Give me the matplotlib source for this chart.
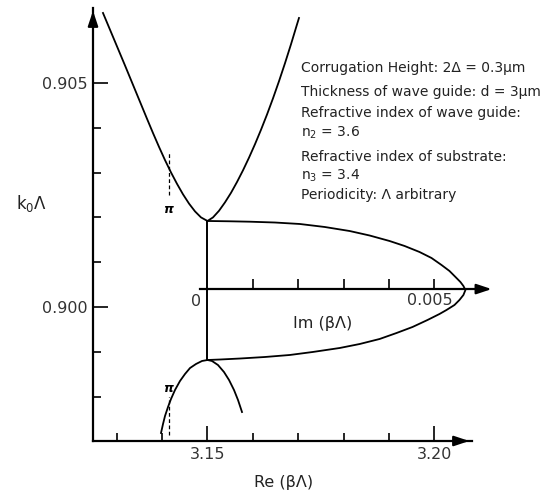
import matplotlib
matplotlib.use("Agg")
import matplotlib.pyplot as plt

plt.rcParams['font.family'] = ['DejaVu Sans']
plt.rcParams['mathtext.fontset'] = 'dejavusans'

# Upper dispersion branch: Re(beta*Lambda) vs k0*Lambda
upper_re = [3.12698, 3.13183, 3.13667, 3.13800, 3.13932, 3.14064, 3.14196, 3.14328,
            3.14460, 3.14593, 3.14725, 3.14857, 3.15000,
            3.15121, 3.15253, 3.15385, 3.15518, 3.15650, 3.15782, 3.15914, 3.16046,
            3.16178, 3.16311, 3.16443, 3.16575, 3.16707, 3.16839, 3.16971, 3.17015]
upper_k = [0.906563, 0.905391, 0.904203, 0.903882, 0.903574, 0.903279, 0.903004, 0.902750,
           0.902516, 0.902308, 0.902134, 0.902000, 0.901920,
           0.902000, 0.902147, 0.902335, 0.902549, 0.902790, 0.903051, 0.903333, 0.903634,
           0.903955, 0.904297, 0.904658, 0.905040, 0.905442, 0.905864, 0.906306, 0.906451]

# Lower dispersion branch
lower_re = [3.13976, 3.14020, 3.14064, 3.14130, 3.14196, 3.14284, 3.14394, 3.14504,
            3.14615, 3.14747, 3.14879, 3.15000,
            3.15099, 3.15231, 3.15363, 3.15474, 3.15584, 3.15672, 3.15760]
lower_k = [0.897188, 0.897388, 0.897567, 0.897768, 0.897946, 0.898147, 0.898348, 0.898504,
           0.898638, 0.898728, 0.898795, 0.898817,
           0.898795, 0.898705, 0.898549, 0.898371, 0.898147, 0.897924, 0.897656]

# Stop band: Im(beta*Lambda) vs k0*Lambda
gap_im = [0.0, 0.000495, 0.000934, 0.001484, 0.002033, 0.002582, 0.003132, 0.003571,
          0.004011, 0.004341, 0.004670, 0.004934, 0.005154, 0.005330, 0.005462, 0.005571,
          0.005637, 0.005681,
          0.005637, 0.005549, 0.005440, 0.005264, 0.005110, 0.004846, 0.004516, 0.004165,
          0.003791, 0.003352, 0.002912, 0.002319, 0.001813, 0.001264, 0.000714, 0.000275, 0.0]
gap_k = [0.901920, 0.901913, 0.901904, 0.901886, 0.901853, 0.901786, 0.901696, 0.901596,
         0.901473, 0.901362, 0.901228, 0.901094, 0.900938, 0.900804, 0.900670, 0.900558,
         0.900469, 0.900379,
         0.900268, 0.900156, 0.900045, 0.899933, 0.899844, 0.899710, 0.899554, 0.899420,
         0.899286, 0.899174, 0.899085, 0.898996, 0.898929, 0.898884, 0.898850, 0.898828, 0.898817]

gap_re = 3.15
gap_top = 0.901920
gap_bottom = 0.898817
im_axis_k = 0.90040
bragg_re = 3.1416

re_major = [3.15, 3.20]
re_major_labels = ['3.15', '3.20']
re_minor = [3.13, 3.14, 3.16, 3.17, 3.18, 3.19]
k_major = [0.900, 0.905]
k_major_labels = ['0.900', '0.905']
k_minor = [0.898, 0.899, 0.901, 0.902, 0.903, 0.904]
im_ticks = [0.001, 0.002, 0.003, 0.004, 0.005]

notes = [
    "Corrugation Height: 2Δ = 0.3μm",
    "Thickness of wave guide: d = 3μm",
    "Refractive index of wave guide:",
    "n$_2$ = 3.6",
    "Refractive index of substrate:",
    "n$_3$ = 3.4",
    "Periodicity: Λ arbitrary",
]
note_y_px = [68, 92, 113, 133, 157, 176, 195]

W, H = 550, 499
fig = plt.figure(figsize=(W / 100, H / 100), dpi=100)

def fx(px):
    return px / W

def fy(py):
    return 1 - py / H

pos = [fx(93), fy(441), fx(472) - fx(93), fy(8) - fy(441)]
ax = fig.add_axes(pos)
re_lim = (3.12478, 3.20826)
k_lim = (0.897009, 0.906674)
ax.set_xlim(*re_lim)
ax.set_ylim(*k_lim)
ax.patch.set_alpha(0)
for s in ['top', 'right']:
    ax.spines[s].set_visible(False)
for s in ['left', 'bottom']:
    ax.spines[s].set_linewidth(1.6)

ax.set_xticks(re_major)
ax.set_xticklabels(re_major_labels)
ax.set_xticks(re_minor, minor=True)
ax.set_yticks(k_major)
ax.set_yticklabels(k_major_labels)
ax.set_yticks(k_minor, minor=True)
ax.tick_params(which='major', direction='in', length=10.5, width=1.2, labelsize=11.5,
               pad=4, labelcolor='#333333')
ax.tick_params(which='minor', direction='in', length=6, width=1.2)

# axis arrowheads
arrow = dict(arrowstyle='-|>,head_length=0.9,head_width=0.3', color='k', lw=1.6)
ax.annotate('', xy=(1, 0), xycoords='axes fraction', xytext=(-12, 0),
            textcoords='offset points', arrowprops=arrow, annotation_clip=False)
ax.annotate('', xy=(0, 1), xycoords='axes fraction', xytext=(0, -12),
            textcoords='offset points', arrowprops=arrow, annotation_clip=False)

# dispersion curves
ax.plot(upper_re, upper_k, color='k', lw=1.3, solid_joinstyle='round')
ax.plot(lower_re, lower_k, color='k', lw=1.3, solid_joinstyle='round')
ax.plot([gap_re, gap_re], [gap_bottom, gap_top], color='k', lw=1.4)

# Bragg condition markers (beta*Lambda = pi)
ax.plot([bragg_re, bragg_re], [0.90250, 0.90344], color='k', lw=0.9, ls=(0, (3, 2)))
ax.plot([bragg_re, bragg_re], [0.89714, 0.89799], color='k', lw=0.9, ls=(0, (3, 2)))
ax.text(bragg_re - 0.0002, 0.90218, 'π', ha='center', va='center', fontsize=9,
        fontweight='bold', style='italic')
ax.text(bragg_re - 0.0002, 0.89818, 'π', ha='center', va='center', fontsize=9,
        fontweight='bold', style='italic')

# Imaginary part on its own horizontal scale
ax2 = fig.add_axes(pos)
im_lim = ((re_lim[0] - gap_re) / 10, (re_lim[1] - gap_re) / 10)
ax2.set_xlim(*im_lim)
ax2.set_ylim(*k_lim)
ax2.patch.set_alpha(0)
for s in ['top', 'right', 'left']:
    ax2.spines[s].set_visible(False)
ax2.spines['bottom'].set_position(('data', im_axis_k))
ax2.spines['bottom'].set_bounds(-0.00017, 0.0060)
ax2.spines['bottom'].set_linewidth(1.6)
ax2.set_yticks([])
ax2.set_xticks(im_ticks)
ax2.set_xticklabels([])
ax2.tick_params(axis='x', direction='in', length=7.5, width=1.2)
ax2.annotate('', xy=(0.00632, im_axis_k), xycoords='data', xytext=(-12, 0),
             textcoords='offset points', arrowprops=arrow, annotation_clip=False)
ax2.plot(gap_im, gap_k, color='k', lw=1.3, clip_on=False, solid_joinstyle='round')
ax2.text(-0.00025, 0.90012, '0', ha='center', va='center', fontsize=11.5, color='#333333')
ax2.text(0.00489, 0.90014, '0.005', ha='center', va='center', fontsize=11.5, color='#333333')
ax2.text(0.00254, 0.89964, 'Im (βΛ)', ha='center', va='center', fontsize=11.5, color='#222222')

# axis titles
fig.text(fx(284), fy(482), 'Re (βΛ)', ha='center', va='center', fontsize=11.5, color='#222222')
fig.text(fx(31), fy(203), 'k$_0$Λ', ha='center', va='center', fontsize=12, color='#222222')

# parameter notes
for t, py in zip(notes, note_y_px):
    fig.text(fx(301), fy(py), t, ha='left', va='center', fontsize=10, color='#222222')

fig.savefig('out.png', dpi=100)
